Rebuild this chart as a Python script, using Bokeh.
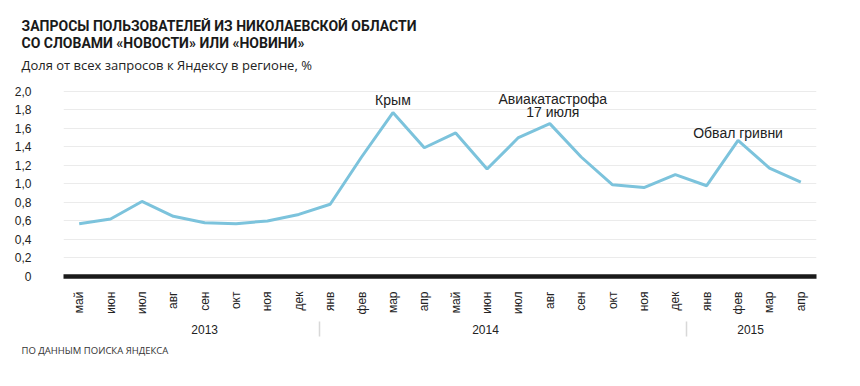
import math
from bokeh.plotting import figure
from bokeh.models import Range1d, FixedTicker, LinearAxis, Title
from bokeh.core.properties import value
from bokeh.embed import file_html
from bokeh.resources import INLINE

# ---------------- data ----------------
title_lines = ["ЗАПРОСЫ ПОЛЬЗОВАТЕЛЕЙ ИЗ НИКОЛАЕВСКОЙ ОБЛАСТИ",
               "СО СЛОВАМИ «НОВОСТИ» ИЛИ «НОВИНИ»"]
subtitle = "Доля от всех запросов к Яндексу в регионе, %"
source_note = "ПО ДАННЫМ ПОИСКА ЯНДЕКСА"

months = ["май", "июн", "июл", "авг", "сен", "окт", "ноя", "дек",
          "янв", "фев", "мар", "апр", "май", "июн", "июл", "авг",
          "сен", "окт", "ноя", "дек",
          "янв", "фев", "мар", "апр"]
years = ["2013", "2014", "2015"]
share = [0.57, 0.62, 0.81, 0.65, 0.58, 0.57, 0.60, 0.67,
         0.78, 1.29, 1.77, 1.39, 1.55, 1.16, 1.50, 1.65,
         1.29, 0.99, 0.96, 1.10,
         0.98, 1.47, 1.17, 1.02]
y_ticks = [0, 0.2, 0.4, 0.6, 0.8, 1.0, 1.2, 1.4, 1.6, 1.8, 2.0]
y_tick_labels = ["0", "0,2", "0,4", "0,6", "0,8", "1,0", "1,2", "1,4", "1,6", "1,8", "2,0"]
event_labels = ["Крым", "Авиакатастрофа", "17 июля", "Обвал гривни"]
event_month = [10, 15, 15, 21]

# ---------------- layout / style ----------------
W, H = 860, 386
ML, MR, MT, MB = 63, 44, 76, 110
Y_END = 2.159
year_label_pos = [4.0, 12.95, 21.4]
year_sep_pos = [7.65, 19.35]
event_offsets = [(0, -13), (3, -24.5), (3, -11.5), (0, -7.2)]
LINE_COLOR = "#7cc3dc"
TXT = "#222222"
FONT = "Liberation Sans"
TEXT_X = 21

x = list(range(len(months)))

p = figure(width=W, height=H, output_backend="svg", toolbar_location=None,
           x_range=Range1d(-0.5, len(months) - 0.5), y_range=Range1d(0, Y_END),
           min_border_left=ML, min_border_right=MR, min_border_top=MT,
           min_border_bottom=MB)
p.outline_line_color = None
p.background_fill_color = "white"
p.border_fill_color = "white"

# grid
p.xgrid.visible = False
p.ygrid.ticker = FixedTicker(ticks=y_ticks)
p.ygrid.grid_line_color = "#ebebeb"
p.ygrid.grid_line_width = 1

# y axis
ya = p.yaxis[0]
ya.ticker = FixedTicker(ticks=y_ticks)
ya.major_label_overrides = {t: l for t, l in zip(y_ticks, y_tick_labels)}
ya.axis_line_color = None
ya.major_tick_line_color = None
ya.minor_tick_line_color = None
ya.major_label_standoff = 26
ya.major_label_text_font = FONT
ya.major_label_text_font_size = "12px"
ya.major_label_text_color = TXT

# month axis
xa = p.xaxis[0]
xa.ticker = FixedTicker(ticks=x)
xa.major_label_overrides = {i: m for i, m in zip(x, months)}
xa.major_label_orientation = math.pi / 2
xa.axis_line_color = "#1a1a1a"
xa.axis_line_width = 4.5
xa.major_tick_line_color = None
xa.minor_tick_line_color = None
xa.major_label_standoff = 9
xa.major_label_text_font = FONT
xa.major_label_text_font_size = "12px"
xa.major_label_text_color = TXT

# year axis with separators drawn as minor ticks
yr = LinearAxis(ticker=FixedTicker(ticks=year_label_pos, minor_ticks=year_sep_pos),
                major_label_overrides={t: y for t, y in zip(year_label_pos, years)})
yr.axis_line_color = None
yr.major_tick_line_color = None
yr.minor_tick_line_color = "#d8d8d8"
yr.minor_tick_line_width = 1.5
yr.minor_tick_in = -4
yr.minor_tick_out = 19
yr.major_label_standoff = -12
yr.major_label_text_font = FONT
yr.major_label_text_font_size = "12px"
yr.major_label_text_color = TXT
p.add_layout(yr, "below")

# data line
p.line(x, share, line_color=LINE_COLOR, line_width=3)

# event annotations
for lab, mi, (dx, dy) in zip(event_labels, event_month, event_offsets):
    p.text(x=[x[mi]], y=[share[mi]], text=[lab], text_align="center",
           text_baseline="alphabetic", x_offset=dx, y_offset=dy,
           text_font=value(FONT), text_font_size="14px", text_color=TXT)

# titles (added inner -> outer) and source note
p.add_layout(Title(text=subtitle, align="left", offset=TEXT_X - ML, standoff=6,
                   text_font="Open Sans", text_font_size="13px",
                   text_font_style="normal", text_color="#222222"), "above")
p.add_layout(Title(text=title_lines[1], align="left", offset=TEXT_X - ML, standoff=0,
                   text_font="Roboto", text_font_size="14px",
                   text_font_style="bold", text_color="#1a1a1a"), "above")
p.add_layout(Title(text=title_lines[0], align="left", offset=TEXT_X - ML, standoff=-3,
                   text_font="Roboto", text_font_size="14px",
                   text_font_style="bold", text_color="#1a1a1a"), "above")
p.add_layout(Title(text=source_note, align="left", offset=TEXT_X - ML, standoff=11,
                   text_font="Open Sans", text_font_size="9.5px",
                   text_font_style="normal", text_color="#333333"), "below")

open("out.html", "w").write(file_html(p, INLINE))
